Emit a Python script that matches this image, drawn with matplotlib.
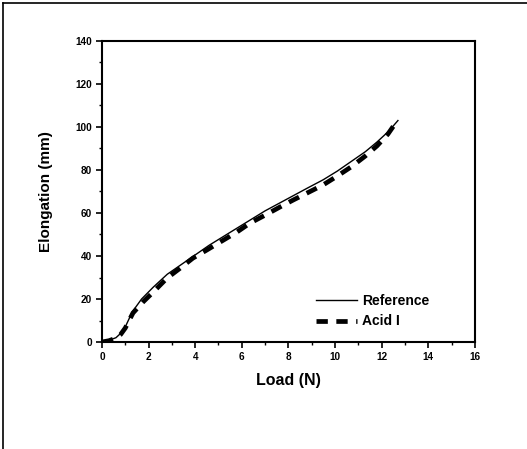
import matplotlib
matplotlib.use("Agg")
import matplotlib.pyplot as plt
from matplotlib.lines import Line2D
from matplotlib.ticker import MultipleLocator

plt.rcParams['font.family'] = ['Liberation Sans', 'DejaVu Sans']
plt.rcParams['font.weight'] = 'bold'

load_ref = [0, 0.3, 0.6, 0.8, 1.0, 1.3, 1.7, 2.2, 2.8, 3.4, 4.0, 4.6, 5.2, 5.8, 6.4, 7.0, 7.6, 8.2, 8.8, 9.5, 10.1, 10.7, 11.3, 11.8, 12.3, 12.7]
elong_ref = [0, 0.8, 2.0, 4.0, 7.0, 14.0, 20.0, 25.5, 31.5, 36.0, 40.5, 45.0, 49.0, 53.0, 57.0, 61.0, 64.5, 68.0, 71.5, 75.5, 79.5, 84.0, 88.5, 93.0, 98.0, 103.0]

load_acid = [0, 0.3, 0.6, 0.8, 1.0, 1.33, 1.76, 2.27, 2.79, 3.35, 3.9, 4.5, 5.15, 5.8, 6.35, 7.0, 7.64, 8.2, 8.84, 9.48, 10.1, 10.7, 11.3, 11.8, 12.27, 12.66]
elong_acid = [0, 0.6, 1.8, 3.5, 6.5, 13.5, 18.6, 24.0, 29.7, 34.3, 39.0, 42.8, 47.0, 51.2, 55.3, 59.0, 62.8, 66.0, 69.5, 73.0, 77.2, 81.5, 86.5, 91.2, 96.7, 102.8]

xticks = [0, 2, 4, 6, 8, 10, 12, 14, 16]
yticks = [0, 20, 40, 60, 80, 100, 120, 140]

fig = plt.figure(figsize=(5.27, 4.49), dpi=100)
ax = fig.add_axes([0.1935, 0.2383, 0.7075, 0.6704])

ax.plot(load_ref, elong_ref, color='black', lw=1.0, label='Reference')
ax.plot(load_acid, elong_acid, color='black', lw=3.4, dashes=(2.4, 1.8), label='Acid I')

ax.set_xlim(0, 16)
ax.set_ylim(0, 140)
ax.set_xticks(xticks)
ax.set_yticks(yticks)
ax.xaxis.set_minor_locator(MultipleLocator(1))
ax.yaxis.set_minor_locator(MultipleLocator(10))
ax.tick_params(which='major', direction='out', length=4, width=1.2, labelsize=7.2, pad=3)
ax.tick_params(which='minor', direction='out', length=2, width=1.0)
for lab in ax.get_xticklabels() + ax.get_yticklabels():
    lab.set_fontweight('bold')
for s in ax.spines.values():
    s.set_linewidth(1.5)

ax.set_xlabel('Load (N)', fontsize=11.5, fontweight='bold', labelpad=8)
ax.set_ylabel('Elongation (mm)', fontsize=11, fontweight='bold', labelpad=16)

leg = ax.legend(loc='lower left', bbox_to_anchor=(0.575, 0.045), frameon=False,
                prop={'size': 10, 'weight': 'bold'}, handlelength=2.9, handletextpad=0.4,
                labelspacing=0.45, borderpad=0, borderaxespad=0)

fig.add_artist(Line2D([0.006, 0.006], [0, 0.994], transform=fig.transFigure, color='black', lw=1.2))
fig.add_artist(Line2D([0.006, 1.0], [0.994, 0.994], transform=fig.transFigure, color='black', lw=1.2))

fig.savefig('out.png', dpi=100)
